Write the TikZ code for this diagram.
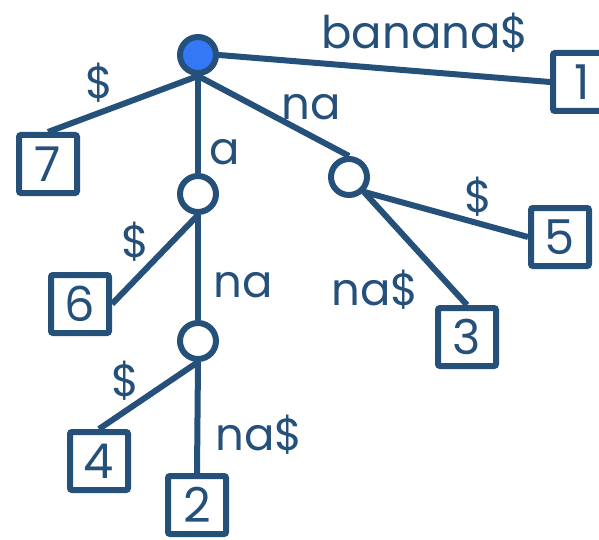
\documentclass[tikz,border=0pt]{standalone}
\usepackage{fontspec}
\setmainfont{Poppins}
\usepackage{xcolor}
\usetikzlibrary{positioning}

\definecolor{treeblue}{HTML}{25507A}
\definecolor{rootfill}{HTML}{3478F6}

\begin{document}
\begin{tikzpicture}[
    x=1pt, y=-1pt,
    inner/.style={
        circle,
        draw=treeblue,
        fill=white,
        line width=6pt,
        minimum size=36pt,
        inner sep=0pt
    },
    leaf/.style={
        rectangle,
        draw=treeblue,
        fill=white,
        line width=6pt,
        rounded corners=2pt,
        minimum size=58pt,
        inner sep=0pt,
        text=treeblue,
        font=\fontsize{48}{48}\selectfont
    },
    lbl/.style={
        text=treeblue,
        inner sep=0pt,
        font=\fontsize{45}{45}\selectfont
    },
    edge/.style={
        draw=treeblue,
        line width=6pt
    }
]
\useasboundingbox (0,0) rectangle (599,540);

% internal nodes
\node[inner, fill=rootfill] (root) at (198,55) {};
\node[inner] (a) at (198,194) {};
\node[inner] (na) at (349,177) {};
\node[inner] (ana) at (198,341) {};

% leaves
\node[leaf] (l1) at (582,82) {1};
\node[leaf] (l7) at (48,164) {7};
\node[leaf] (l6) at (80,304) {6};
\node[leaf] (l5) at (560,237) {5};
\node[leaf] (l3) at (467,337) {3};
\node[leaf] (l4) at (99,461) {4};
\node[leaf] (l2) at (197,505) {2};

% edges
\draw[edge] (root.east) -- (l1.west);
\draw[edge] (root.south) -- (l7.north);
\draw[edge] (root.south) -- (a.north);
\draw[edge] (root.south) -- (na.north);
\draw[edge] (a.south) -- (l6.east);
\draw[edge] (a.south) -- (ana.north);
\draw[edge] (na.south east) -- (l5.west);
\draw[edge] (na.south east) -- (l3.north);
\draw[edge] (ana.south) -- (l4.north);
\draw[edge] (ana.south) -- (l2.north);

% edge labels
\node[lbl] (t1) at (425,33) {banana\$};
\node[lbl] (t7) at (99,83) {\$};
\node[lbl] (ta) at (225,152) {a};
\node[lbl] (tna) at (311,107) {na};
\node[lbl] (t5) at (478,197) {\$};
\node[lbl] (t3) at (375,290) {na\$};
\node[lbl] (t6) at (135,242) {\$};
\node[lbl] (tana) at (243,285) {na};
\node[lbl] (t4) at (125,381) {\$};
\node[lbl] (t2) at (259,435) {na\$};

\end{tikzpicture}
\end{document}
